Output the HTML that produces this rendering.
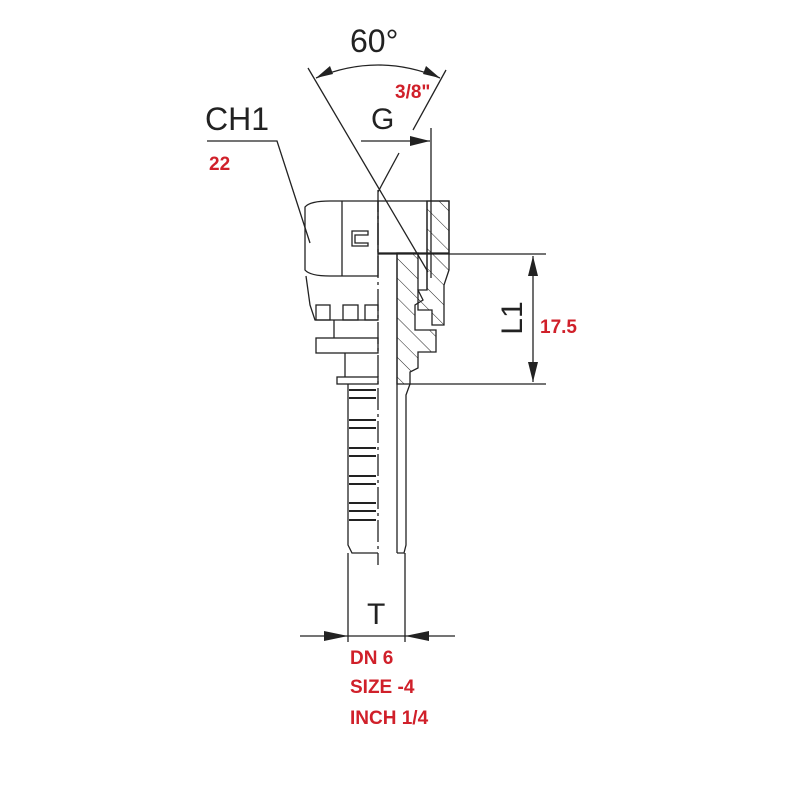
<!DOCTYPE html>
<html><head><style>html,body{margin:0;padding:0;background:#fff}svg{display:block}</style></head>
<body>
<svg width="800" height="800" viewBox="0 0 800 800" xmlns="http://www.w3.org/2000/svg" font-family="Liberation Sans, sans-serif">
<defs>
<pattern id="h" width="14" height="14" patternUnits="userSpaceOnUse" patternTransform="rotate(-45)">
<line x1="0" y1="0" x2="0" y2="14" stroke="#222" stroke-width="1"/></pattern>
</defs>
<g stroke="#222" stroke-width="1.3" fill="none">
<!-- 60 deg -->
<line x1="308" y1="68" x2="428" y2="272"/>
<line x1="446" y1="70" x2="413" y2="130"/>
<line x1="399" y1="153" x2="378" y2="192"/>
<path d="M316 78 Q378 52 440 78"/>
<!-- G dim -->
<line x1="361" y1="141" x2="430" y2="141"/>
<line x1="431" y1="128" x2="431" y2="278"/>
<!-- CH1 leader -->
<polyline points="207,141 277,141 310,243"/>
<!-- hex nut left -->
<path d="M305 207 Q310 201 330 201 L378 201 L378 276 L330 276 Q310 276 305 270 Z"/>
<line x1="342" y1="201" x2="342" y2="276"/>
<path d="M352 231 L368 231 L368 235 L355 235 L355 243 L368 243 L368 246 L352 246 Z"/>
<!-- collar -->
<path d="M306 276 L310 305 L315 320 L378 320"/>
<rect x="316" y="305" width="14" height="15"/>
<rect x="343" y="305" width="15" height="15"/>
<rect x="365" y="305" width="13" height="15"/>
<line x1="334" y1="320" x2="334" y2="338"/>
<rect x="316" y="338" width="62" height="15"/>
<line x1="345" y1="353" x2="345" y2="377"/>
<rect x="337" y="377" width="41" height="7"/>
<!-- tail left -->
<path d="M348 384 L348 545 L352 553 L378 553"/>
<g stroke-width="2">
<line x1="349" y1="390" x2="376" y2="390"/><line x1="349" y1="398" x2="376" y2="398"/>
<line x1="349" y1="420" x2="376" y2="420"/><line x1="349" y1="428" x2="376" y2="428"/>
<line x1="349" y1="448" x2="376" y2="448"/><line x1="349" y1="456" x2="376" y2="456"/>
<line x1="349" y1="476" x2="376" y2="476"/><line x1="349" y1="484" x2="376" y2="484"/>
<line x1="349" y1="503" x2="376" y2="503"/><line x1="349" y1="511" x2="376" y2="511"/>
<line x1="349" y1="520" x2="376" y2="520"/>
</g>
<!-- centerline -->
<line x1="378" y1="190" x2="378" y2="565" stroke-dasharray="22,4,3,4"/>
<!-- right section -->
<rect x="378" y="201" width="71" height="52"/>
<path d="M427 201 L449 201 L449 270 L444 285 L444 325 L432 325 L432 310 L418 310 L418 290 L427 290 Z" fill="url(#h)"/>
<line x1="427" y1="201" x2="427" y2="290"/>
<path d="M397 253 L418 253 L418 290 L423 300 L415 305 L415 330 L436 330 L436 352 L418 352 L418 368 L410 372 L410 384 L397 384 Z" fill="url(#h)"/>
<line x1="397" y1="253" x2="397" y2="553"/>
<path d="M410 384 L406 395 L406 545 L404 553 L397 553"/>
<!-- L1 dim -->
<line x1="378" y1="254" x2="546" y2="254"/>
<line x1="410" y1="384" x2="546" y2="384"/>
<line x1="533" y1="256" x2="533" y2="382"/>
<!-- T dim -->
<line x1="348" y1="553" x2="348" y2="642"/>
<line x1="405" y1="553" x2="405" y2="642"/>
<line x1="300" y1="636" x2="455" y2="636"/>
</g>
<g fill="#222">
<polygon points="316,78 330,66 333,74"/>
<polygon points="440,78 426,66 423,74"/>
<polygon points="430,141 410,136 410,146"/>
<polygon points="533,256 528,276 538,276"/>
<polygon points="533,382 528,362 538,362"/>
<polygon points="348,636 324,631 324,641"/>
<polygon points="405,636 429,631 429,641"/>
</g>
<g fill="#222" font-size="32">
<text x="350" y="52">60°</text>
<text x="205" y="130">CH1</text>
<text x="371" y="129" font-size="30">G</text>
<text x="367" y="624" font-size="30">T</text>
<text transform="translate(522,318) rotate(-90)" text-anchor="middle" font-size="30">L1</text>
</g>
<g fill="#d0202a" font-weight="bold" font-size="19">
<text x="395" y="98">3/8"</text>
<text x="209" y="170">22</text>
<text x="540" y="333">17.5</text>
<text x="350" y="664">DN 6</text>
<text x="350" y="693">SIZE -4</text>
<text x="350" y="724">INCH 1/4</text>
</g>
</svg>
</body></html>
